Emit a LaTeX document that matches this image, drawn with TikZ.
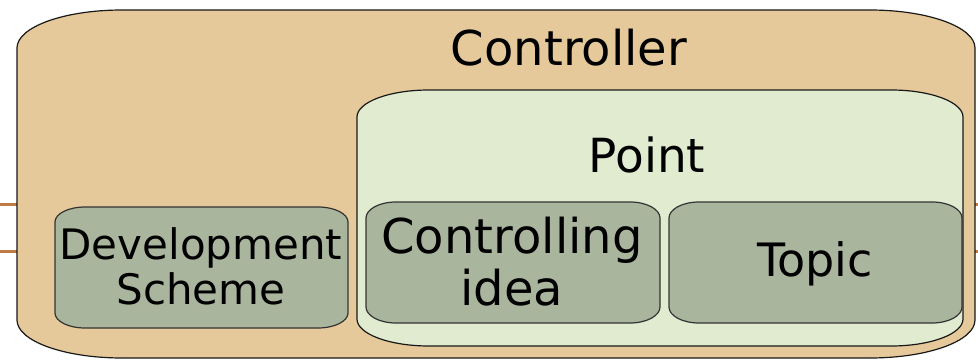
\documentclass[tikz,border=0pt]{standalone}
\usepackage{fontspec}
\setmainfont{DejaVu Sans}
\definecolor{ctrlfill}{RGB}{229,201,154}
\definecolor{pointfill}{RGB}{224,235,208}
\definecolor{innerfill}{RGB}{169,181,157}
\definecolor{wire}{RGB}{190,124,72}
\newcommand\erect[7]{%
\draw[#7] ({#1+#5},{360-(#2)}) -- ({#3-#5},{360-(#2)})
  arc[start angle=90,end angle=0,x radius=#5pt,y radius=#6pt]
  -- ({#3},{360-(#4)+#6})
  arc[start angle=0,end angle=-90,x radius=#5pt,y radius=#6pt]
  -- ({#1+#5},{360-(#4)})
  arc[start angle=270,end angle=180,x radius=#5pt,y radius=#6pt]
  -- ({#1},{360-(#2)-#6})
  arc[start angle=180,end angle=90,x radius=#5pt,y radius=#6pt] -- cycle;}
\tikzset{
  ctrlbox/.style={fill=ctrlfill,draw=black!90,line width=1.2pt},
  pointbox/.style={fill=pointfill,draw=black!90,line width=1.2pt},
  innerbox/.style={fill=innerfill,draw=black!80,line width=1.2pt},
  wireline/.style={draw=wire,line width=3pt},
  label/.style={inner sep=0pt,align=center,text=black}
}
\begin{document}
\begin{tikzpicture}[x=1pt,y=1pt]
\useasboundingbox (0,0) rectangle (978,360);
% wires
\coordinate (wl1) at (0,156); \coordinate (wl1e) at (18,156);
\coordinate (wl2) at (0,109); \coordinate (wl2e) at (18,109);
\coordinate (wr1) at (978,156); \coordinate (wr1e) at (974,156);
\coordinate (wr2) at (978,109); \coordinate (wr2e) at (974,109);
\draw[wireline] (wl1) -- (wl1e);
\draw[wireline] (wl2) -- (wl2e);
\draw[wireline] (wr1) -- (wr1e);
\draw[wireline] (wr2) -- (wr2e);
% boxes
\erect{17}{10}{975}{358}{105}{38}{ctrlbox}
\erect{357}{90}{963}{346}{72}{27}{pointbox}
\erect{55}{207}{348}{328}{30}{15}{innerbox}
\erect{366}{202}{660}{323}{30}{16}{innerbox}
\erect{669}{202}{962}{323}{30}{16}{innerbox}
% labels
\node[label,font=\fontsize{48}{56}\selectfont] (controller) at (569,312) {Controller};
\node[label,font=\fontsize{47}{54}\selectfont] (point) at (647,205) {Point};
\node[label,font=\fontsize{42}{45}\selectfont] (devscheme) at (201,94) {Development\\Scheme};
\node[label,font=\fontsize{48}{52}\selectfont] (ctrlidea) at (512,98) {Controlling\\idea};
\node[label,font=\fontsize{46}{52}\selectfont] (topic) at (815,96) {Topic};
\end{tikzpicture}
\end{document}
